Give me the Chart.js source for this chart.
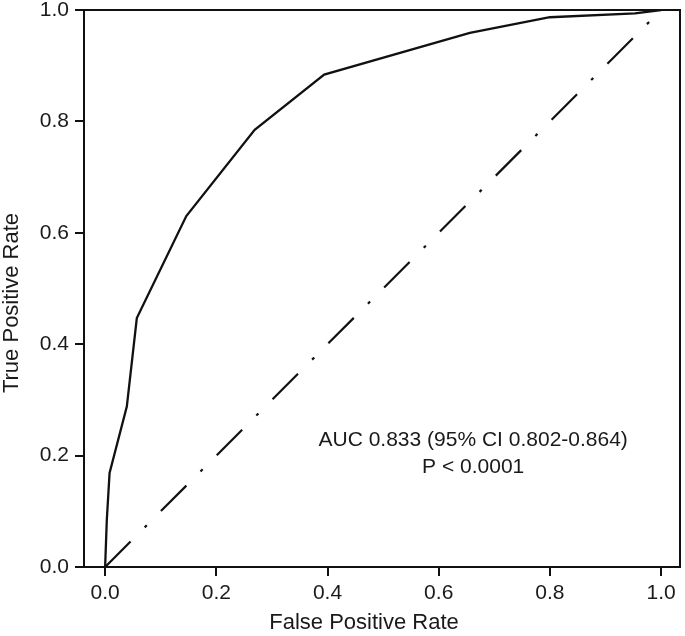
<!DOCTYPE html>
<html>
<head>
<meta charset="utf-8">
<script src="https://cdn.jsdelivr.net/npm/chart.js@4/dist/chart.umd.min.js"></script>
<style>
  html, body { margin: 0; padding: 0; background: #fff; }
  #wrap { width: 685px; height: 636px; }
</style>
</head>
<body>
<div id="wrap"><canvas id="rocChart" width="685" height="636"></canvas></div>
<script>
// ROC curve
const fpr = [0, 0.003, 0.008, 0.039, 0.057, 0.146, 0.269, 0.394, 0.656, 0.80, 0.953, 1];
const tpr = [0, 0.084, 0.169, 0.288, 0.447, 0.630, 0.785, 0.884, 0.959, 0.987, 0.994, 1];

// chance line
const refX = [0, 1];
const refY = [0, 1];

const xTicks = [0, 0.2, 0.4, 0.6, 0.8, 1.0];
const yTicks = [0, 0.2, 0.4, 0.6, 0.8, 1.0];

const xTitle = 'False Positive Rate';
const yTitle = 'True Positive Rate';
const noteLines = ['AUC 0.833 (95% CI 0.802-0.864)', 'P < 0.0001'];

const FONT = '"Liberation Sans", Arial, Helvetica, sans-serif';

// box around plot, axis titles and the AUC note
const framePlugin = {
    id: 'frame',
    afterDraw(chart) {
        const { ctx, chartArea: a, scales } = chart;
        ctx.save();
        ctx.strokeStyle = '#111';
        ctx.lineWidth = 2;
        ctx.strokeRect(a.left, a.top, a.right - a.left, a.bottom - a.top);

        ctx.fillStyle = '#1a1a1a';
        ctx.textAlign = 'center';
        ctx.textBaseline = 'middle';
        ctx.font = '22px ' + FONT;
        ctx.fillText(xTitle, 364, 623);

        ctx.save();
        ctx.translate(12, 303);
        ctx.rotate(-Math.PI / 2);
        ctx.fillText(yTitle, 0, 0);
        ctx.restore();

        ctx.font = '21px ' + FONT;
        const cx = scales.x.getPixelForValue(0.662);
        ctx.fillText(noteLines[0], cx, scales.y.getPixelForValue(0.228));
        ctx.fillText(noteLines[1], cx, scales.y.getPixelForValue(0.180));
        ctx.restore();
    }
};

new Chart(document.getElementById('rocChart'), {
    type: 'scatter',
    data: {
        datasets: [
            {
                data: fpr.map((x, i) => ({ x, y: tpr[i] })),
                showLine: true,
                borderColor: '#111',
                borderWidth: 2.3,
                pointRadius: 0,
                tension: 0
            },
            {
                data: refX.map((x, i) => ({ x, y: refY[i] })),
                showLine: true,
                borderColor: '#111',
                borderWidth: 2.2,
                borderDash: [36, 20, 3, 20],
                pointRadius: 0
            }
        ]
    },
    options: {
        responsive: false,
        animation: false,
        layout: { padding: { top: 10, right: 5, left: 0, bottom: 0 } },
        plugins: {
            legend: { display: false },
            tooltip: { enabled: false }
        },
        scales: {
            x: {
                type: 'linear',
                min: -0.038,
                max: 1.034,
                afterBuildTicks: s => { s.ticks = xTicks.map(v => ({ value: v })); },
                afterFit: s => { s.height = 69; s.paddingLeft = 0; s.paddingRight = 0; },
                grid: { drawOnChartArea: false, drawTicks: true, tickLength: 9, color: '#111', lineWidth: 2 },
                border: { display: true, color: '#111', width: 2 },
                ticks: {
                    color: '#1a1a1a',
                    padding: 5,
                    maxRotation: 0,
                    font: { family: FONT, size: 21 },
                    callback: v => v.toFixed(1)
                }
            },
            y: {
                type: 'linear',
                min: 0,
                max: 1,
                afterBuildTicks: s => { s.ticks = yTicks.map(v => ({ value: v })); },
                afterFit: s => { s.width = 84; s.paddingTop = 0; s.paddingBottom = 0; },
                grid: { drawOnChartArea: false, drawTicks: true, tickLength: 9, color: '#111', lineWidth: 2 },
                border: { display: true, color: '#111', width: 2 },
                ticks: {
                    color: '#1a1a1a',
                    padding: 6,
                    font: { family: FONT, size: 21 },
                    callback: v => v.toFixed(1)
                }
            }
        }
    },
    plugins: [framePlugin]
});
</script>
</body>
</html>
